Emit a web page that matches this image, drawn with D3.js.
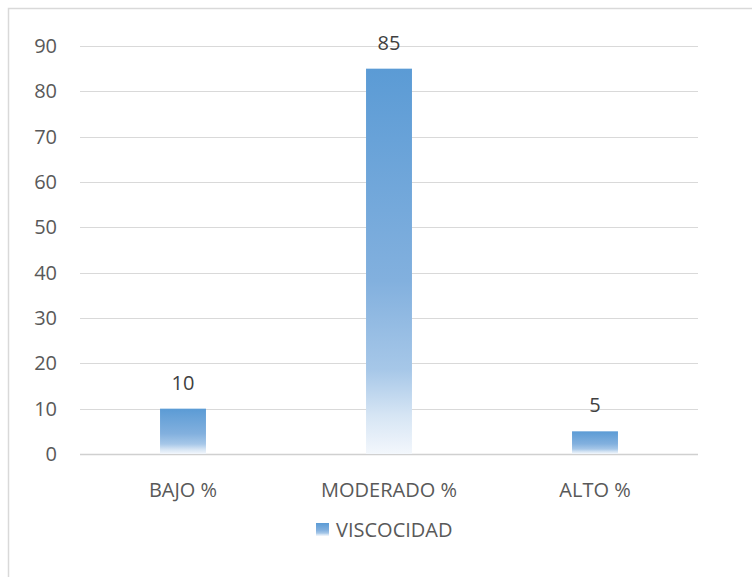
<!DOCTYPE html>
<html>
<head>
<meta charset="utf-8">
<script src="https://cdn.jsdelivr.net/npm/d3@7"></script>
<style>
  body { margin: 0; background: #fff; }
  svg { display: block; font-family: "Open Sans", "Liberation Sans", sans-serif; }
</style>
</head>
<body>
<svg id="chart" width="752" height="577"></svg>
<script>
// datos del gráfico
const categories = ['BAJO %', 'MODERADO %', 'ALTO %'];
const values = [10, 85, 5];
const seriesName = 'VISCOCIDAD';
const yTicks = [0, 10, 20, 30, 40, 50, 60, 70, 80, 90];

const svg = d3.select('#chart');
const margin = { left: 80, right: 54, top: 46, bottom: 123 };
const width = 752, height = 577;

// borde del área del gráfico (recortado a la derecha y abajo)
svg.append('rect')
  .attr('x', 8.5).attr('y', 8.5)
  .attr('width', 800).attr('height', 700)
  .attr('fill', '#fff')
  .attr('stroke', '#d9d9d9')
  .attr('stroke-width', 1.5);

// gradiente de las barras
const defs = svg.append('defs');
const grad = defs.append('linearGradient')
  .attr('id', 'barGrad')
  .attr('x1', 0).attr('y1', 0).attr('x2', 0).attr('y2', 1);
grad.append('stop').attr('offset', '0%').attr('stop-color', '#5b9bd5');
grad.append('stop').attr('offset', '55%').attr('stop-color', '#82b0de');
grad.append('stop').attr('offset', '78%').attr('stop-color', '#a6c7e8');
grad.append('stop').attr('offset', '90%').attr('stop-color', '#d6e5f4');
grad.append('stop').attr('offset', '100%').attr('stop-color', '#f3f7fc');

const x = d3.scaleBand()
  .domain(categories)
  .range([margin.left, width - margin.right]);

const y = d3.scaleLinear()
  .domain([0, 90])
  .range([height - margin.bottom, margin.top]);

// líneas de cuadrícula
svg.append('g')
  .selectAll('line')
  .data(yTicks)
  .enter()
  .append('line')
  .attr('x1', margin.left)
  .attr('x2', width - margin.right)
  .attr('y1', d => Math.round(y(d)) + 0.5)
  .attr('y2', d => Math.round(y(d)) + 0.5)
  .attr('stroke', d => d === 0 ? '#d0d0d0' : '#d9d9d9')
  .attr('stroke-width', d => d === 0 ? 1.5 : 1);

// etiquetas eje Y
svg.append('g')
  .selectAll('text')
  .data(yTicks)
  .enter()
  .append('text')
  .attr('x', 57)
  .attr('y', d => y(d))
  .attr('dy', '0.35em')
  .attr('text-anchor', 'end')
  .attr('fill', '#595959')
  .attr('font-size', 20)
  .text(d => d);

// barras
const barW = x.bandwidth() * 0.223;
svg.append('g')
  .selectAll('rect')
  .data(values)
  .enter()
  .append('rect')
  .attr('x', (d, i) => x(categories[i]) + x.bandwidth() / 2 - barW / 2)
  .attr('y', d => y(d))
  .attr('width', barW)
  .attr('height', d => y(0) - y(d))
  .attr('fill', 'url(#barGrad)');

// etiquetas de datos
svg.append('g')
  .selectAll('text')
  .data(values)
  .enter()
  .append('text')
  .attr('x', (d, i) => x(categories[i]) + x.bandwidth() / 2)
  .attr('y', d => y(d) - 26)
  .attr('dy', '0.35em')
  .attr('text-anchor', 'middle')
  .attr('fill', '#404040')
  .attr('font-size', 20)
  .text(d => d);

// etiquetas de categoría
svg.append('g')
  .selectAll('text')
  .data(categories)
  .enter()
  .append('text')
  .attr('x', d => x(d) + x.bandwidth() / 2)
  .attr('y', 490)
  .attr('dy', '0.35em')
  .attr('text-anchor', 'middle')
  .attr('fill', '#595959')
  .attr('font-size', 20)
  .text(d => d);

// leyenda
const legend = svg.append('g').attr('transform', 'translate(316,523)');
legend.append('rect')
  .attr('width', 13).attr('height', 13)
  .attr('fill', 'url(#barGrad)');
legend.append('text')
  .attr('x', 20)
  .attr('y', 6.5)
  .attr('dy', '0.35em')
  .attr('fill', '#595959')
  .attr('font-size', 20)
  .text(seriesName);
</script>
</body>
</html>
